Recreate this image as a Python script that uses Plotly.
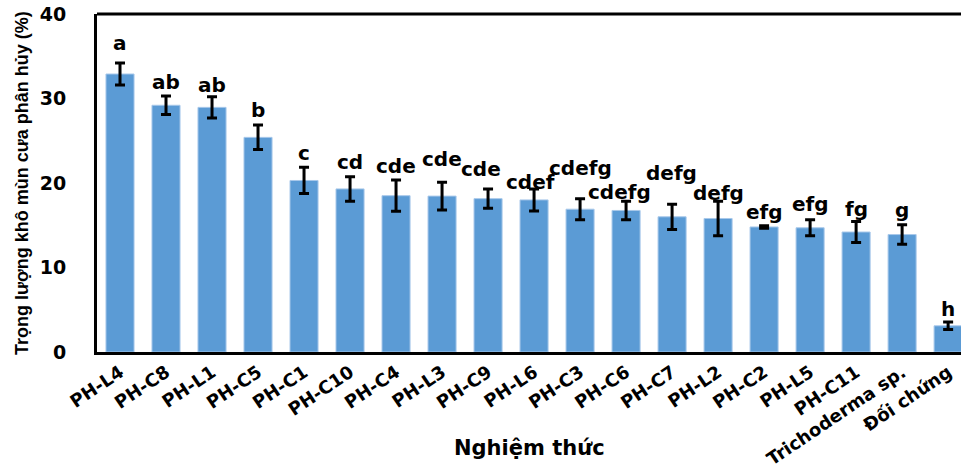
import plotly.graph_objects as go

# Treatments, mean decomposed sawdust dry weight (%), standard errors and significance letters
treatments = ["PH-L4", "PH-C8", "PH-L1", "PH-C5", "PH-C1", "PH-C10", "PH-C4", "PH-L3",
              "PH-C9", "PH-L6", "PH-C3", "PH-C6", "PH-C7", "PH-L2", "PH-C2", "PH-L5",
              "PH-C11", "Trichoderma sp.", "Đối chứng"]
mean_pct = [32.9, 29.2, 28.95, 25.4, 20.3, 19.3, 18.5, 18.45, 18.15, 18.0,
            16.9, 16.75, 16.0, 15.8, 14.8, 14.7, 14.2, 13.9, 3.1]
std_err = [1.3, 1.1, 1.25, 1.45, 1.55, 1.45, 1.85, 1.65, 1.15, 1.3,
           1.25, 1.1, 1.5, 2.05, 0.15, 0.95, 1.25, 1.15, 0.45]
letters = ["a", "ab", "ab", "b", "c", "cd", "cde", "cde", "cde", "cdef",
           "cdefg", "cdefg", "defg", "defg", "efg", "efg", "fg", "g", "h"]
y_ticks = [0, 10, 20, 30, 40]

# Label placement tweaks (pixels) so the letter groups don't collide
label_lift = [20, 14, 12, 15, 14, 15, 14, 23, 20, 7, 31, 9, 31, 8, 14, 16, 12, 15, 13]
label_nudge = [0, 0, 0, 0, 0, 0, 0, 0, -7, -4, 0, -7, -1, 0, 0, 0, 0, 0, 0]

BAR = "#5B9BD5"
BOLD_WIDE = "DejaVu Sans"
BOLD = "Liberation Sans, Arial"

fig = go.Figure(
    go.Bar(
        x=treatments,
        y=mean_pct,
        marker=dict(color=BAR, line=dict(color="#a8c8ea", width=1)),
        error_y=dict(type="data", array=std_err, visible=True,
                     color="black", thickness=3, width=5),
        hoverinfo="x+y",
    )
)

for name, m, e, lab, lift, nudge in zip(treatments, mean_pct, std_err, letters,
                                        label_lift, label_nudge):
    fig.add_annotation(
        x=name, y=m + e, text=lab, showarrow=False,
        yanchor="middle", xanchor="center", yshift=lift, xshift=nudge,
        font=dict(family=BOLD_WIDE, size=20, color="black", weight="bold"),
    )

# Axis titles
fig.add_annotation(
    x=0, y=0.5, xref="paper", yref="paper", text="Trọng lượng khô mùn cưa phân hủy (%)",
    textangle=-90, showarrow=False, xanchor="center", yanchor="middle", xshift=-75,
    font=dict(family=BOLD, size=18, color="black", weight="bold"),
)
fig.add_annotation(
    x=0.5, y=0, xref="paper", yref="paper", text="Nghiệm thức",
    showarrow=False, xanchor="center", yanchor="middle", yshift=-96,
    font=dict(family=BOLD_WIDE, size=21, color="black", weight="bold"),
)

# Top frame line (the frame is left open on the right)
fig.add_shape(type="line", xref="paper", yref="paper", x0=0, x1=1, y0=1, y1=1,
              line=dict(color="black", width=3))

fig.update_layout(
    width=961, height=471,
    margin=dict(l=97, r=0, t=14, b=119),
    plot_bgcolor="white", paper_bgcolor="white",
    showlegend=False, bargap=0.39,
    xaxis=dict(
        range=[-0.5, 18.28], showline=True, linecolor="black", linewidth=3,
        ticks="", showgrid=False, tickangle=-34, automargin=False,
        tickfont=dict(family=BOLD_WIDE, size=18, color="black", weight="bold"),
    ),
    yaxis=dict(
        range=[0, 40], tickvals=y_ticks, showline=True, linecolor="black", linewidth=3,
        ticks="", showgrid=False, zeroline=False, ticklabelstandoff=24, automargin=False,
        tickfont=dict(family=BOLD_WIDE, size=19, color="black", weight="bold"),
    ),
)

fig.write_html("out.html")
